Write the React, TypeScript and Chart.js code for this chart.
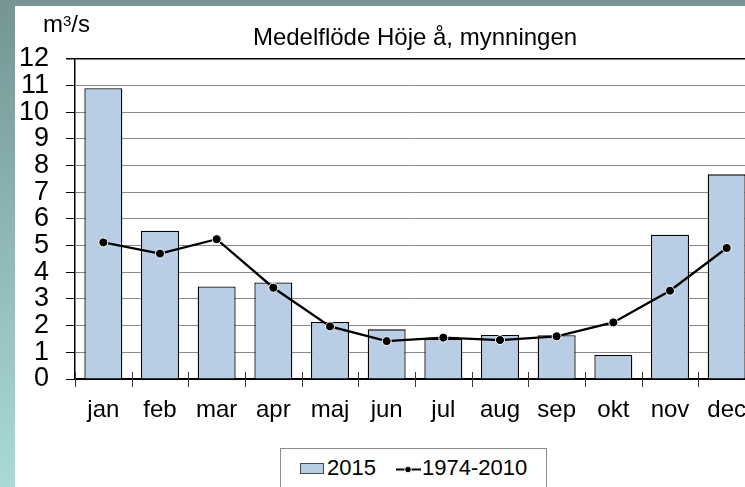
import React, { useEffect, useRef } from "react";
import { Chart, registerables } from "chart.js";

Chart.register(...registerables);

const months = ["jan", "feb", "mar", "apr", "maj", "jun", "jul", "aug", "sep", "okt", "nov", "dec"];
const flow2015 = [10.9, 5.56, 3.47, 3.62, 2.14, 1.86, 1.5, 1.65, 1.64, 0.9, 5.41, 7.67];
const flowMean = [5.12, 4.7, 5.24, 3.42, 1.97, 1.42, 1.55, 1.46, 1.6, 2.12, 3.31, 4.91];
const yMin = 0;
const yMax = 12;
const yStep = 1;
const titleText = "Medelflöde Höje å, mynningen";
const label2015 = "2015";
const labelMean = "1974-2010";

const FONT = '"Liberation Sans", Arial, sans-serif';

const tickMarks = {
  id: "xTickMarks",
  afterDraw(chart: any) {
    const x = chart.scales.x;
    const ctx = chart.ctx;
    const bottom = chart.chartArea.bottom;
    ctx.save();
    ctx.strokeStyle = "#3a3a3a";
    ctx.lineWidth = 1;
    for (let i = 0; i <= months.length; i++) {
      const px = Math.round(x.getPixelForValue(i - 0.5)) + 0.5;
      ctx.beginPath();
      ctx.moveTo(px, bottom - 7);
      ctx.lineTo(px, bottom + 8);
      ctx.stroke();
    }
    ctx.restore();
  },
};

export default function App() {
  const ref = useRef<HTMLCanvasElement | null>(null);

  useEffect(() => {
    if (!ref.current) return;
    const chart = new Chart(ref.current, {
      type: "bar",
      data: {
        labels: months,
        datasets: [
          {
            type: "line",
            label: labelMean,
            data: flowMean,
            order: 0,
            borderColor: "#000",
            borderWidth: 2.3,
            tension: 0,
            pointRadius: 4.5,
            pointBackgroundColor: "#000",
            pointBorderColor: "#fff",
            pointBorderWidth: 1,
          } as any,
          {
            type: "bar",
            label: label2015,
            data: flow2015,
            order: 1,
            backgroundColor: "#b9cde5",
            borderColor: "#000",
            borderWidth: 1.3,
            barPercentage: 0.67,
            categoryPercentage: 1,
          } as any,
        ],
      },
      plugins: [tickMarks],
      options: {
        responsive: false,
        animation: false,
        devicePixelRatio: 1,
        layout: { padding: { left: 0, right: 20, top: 0, bottom: 0 } },
        plugins: {
          legend: { display: false },
          tooltip: { enabled: false },
          title: {
            display: true,
            text: titleText,
            fullSize: false,
            color: "#000",
            font: { family: FONT, size: 24, weight: "normal" },
            padding: { top: 18, bottom: 6 },
          },
        },
        scales: {
          x: {
            offset: true,
            ticks: {
              color: "#000",
              font: { family: FONT, size: 24 },
              padding: 17,
              autoSkip: false,
              maxRotation: 0,
            },
            grid: { display: true, drawOnChartArea: false, drawTicks: false },
            border: { color: "#000", width: 1.5 },
            afterFit: (s: any) => {
              s.height = 108;
            },
          },
          y: {
            min: yMin,
            max: yMax,
            ticks: {
              stepSize: yStep,
              autoSkip: false,
              color: "#000",
              font: { family: FONT, size: 27, lineHeight: 1 },
              padding: 17,
            },
            grid: {
              color: (c: any) => (c.tick && (c.tick.value === yMax || c.tick.value === yMin) ? "#000" : "#8a8a8a"),
              lineWidth: (c: any) => (c.tick && c.tick.value === yMax ? 1.5 : 1),
              tickColor: "#000",
              tickLength: 9,
              drawTicks: true,
            },
            border: { color: "#000", width: 1.5 },
            afterFit: (s: any) => {
              s.width = 60;
            },
          },
        },
      } as any,
    });
    return () => chart.destroy();
  }, []);

  return (
    <div
      style={{
        position: "fixed",
        left: 0,
        top: 0,
        width: 745,
        height: 487,
        overflow: "hidden",
        background: "linear-gradient(to bottom, #769494 0%, #8fb8b6 50%, #a9dad7 100%)",
        fontFamily: FONT,
        color: "#000",
      }}
    >
      <div style={{ position: "absolute", left: 15, top: 6, width: 760, height: 481, background: "#fff" }}>
        <canvas ref={ref} width={760} height={481} style={{ display: "block", width: 760, height: 481 }} />
      </div>
      <div style={{ position: "absolute", left: 43, top: 12, fontSize: 24, lineHeight: "24px", whiteSpace: "nowrap" }}>
        m<span style={{ fontSize: 15, position: "relative", top: -6 }}>3</span>/s
      </div>
      <div
        style={{
          position: "absolute",
          left: 280,
          top: 448,
          width: 265,
          height: 60,
          border: "1px solid #8c8c8c",
          background: "#fff",
        }}
      />
      <div
        style={{
          position: "absolute",
          left: 300,
          top: 463,
          width: 24,
          height: 11,
          boxSizing: "border-box",
          border: "1px solid #4a4a4a",
          background: "#b9cde5",
        }}
      />
      <div style={{ position: "absolute", left: 327, top: 457, fontSize: 22, lineHeight: "22px", whiteSpace: "nowrap" }}>
        {label2015}
      </div>
      <svg style={{ position: "absolute", left: 396, top: 463 }} width={25} height={13}>
        <line x1={0} y1={6.5} x2={25} y2={6.5} stroke="#000" strokeWidth={2} />
        <circle cx={12} cy={6.5} r={3.3} fill="#000" stroke="#fff" strokeWidth={1} />
      </svg>
      <div style={{ position: "absolute", left: 422, top: 457, fontSize: 22, lineHeight: "22px", whiteSpace: "nowrap" }}>
        {labelMean}
      </div>
    </div>
  );
}
